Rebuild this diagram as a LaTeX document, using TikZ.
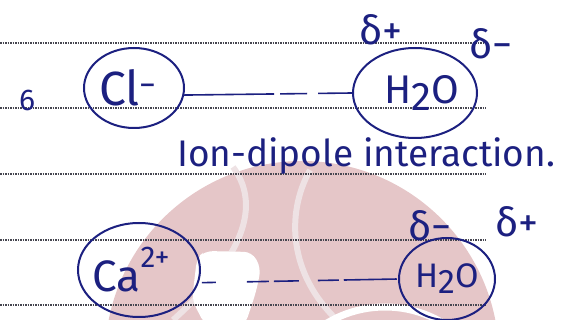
\documentclass[tikz,border=0pt]{standalone}
\usepackage{fontspec}
\setmainfont{Fira Sans}
\usetikzlibrary{positioning, shapes.geometric}
\definecolor{inkblue}{RGB}{28, 32, 128}
\definecolor{logopink}{RGB}{229, 198, 200}
\definecolor{logolight}{RGB}{238, 226, 228}
\definecolor{ruling}{RGB}{70, 70, 80}

\begin{document}
\begin{tikzpicture}[
            x=1pt, y=-1pt,
            ion/.style={draw=inkblue, ellipse, line width=2pt, text=inkblue, inner sep=-25pt},
            charge/.style={text=inkblue, inner sep=0pt, font=\fontsize{40}{42}\selectfont},
            bond/.style={draw=inkblue, line width=1.6pt},
            ruleline/.style={ruling, line width=1.1pt, dash pattern=on 1.5pt off 1pt}
        ]
            \useasboundingbox (0,0) rectangle (568,320);
            \begin{scope}
                \clip (0,0) rectangle (568,320);
                % faint logo behind the notes
                \fill[logopink] (302,358) circle (197);
                \draw[logolight, line width=6pt] (233,167) .. controls (265,210) and (235,265) .. (173,320);
                \draw[logolight, line width=6pt] (310,170) .. controls (285,215) and (290,275) .. (337,320);
                \draw[white, line width=7pt] (385,420) circle (113);
                \fill[white, rounded corners=8pt] (192,300) -- (197,258) -- (205,251) -- (252,252) -- (261,268) -- (256,292) -- (245,325) -- (205,325) -- cycle;
            \end{scope}

            \foreach \y in {43, 108, 174, 240, 305}
                \draw[ruleline] (0,\y) -- (486,\y);

            \node[text=inkblue, font=\fontsize{30}{32}\selectfont] (mark) at (27,100) {6};

            \node[ion, minimum width=100pt, minimum height=80pt, font=\fontsize{48}{50}\selectfont] (cl) at (134,88) {\raisebox{-4pt}{Cl\textsuperscript{−}}\hspace*{12pt}};
            \node[ion, minimum width=124pt, minimum height=90pt, font=\fontsize{40}{42}\selectfont] (w1) at (415,93) {\hspace*{14pt}H\raisebox{-7pt}{2}O};
            \node[charge] (dp1) at (381,30) {δ+};
            \node[charge] (dm1) at (491,44) {δ−};

            \node[text=inkblue, anchor=base west, inner sep=0pt, font=\fontsize{37}{40}\selectfont] (caption) at (177,167) {Ion-dipole interaction.};

            \node[ion, minimum width=122pt, minimum height=94pt, font=\fontsize{44}{46}\selectfont] (ca) at (139,270) {\raisebox{-10pt}{Ca\raisebox{24pt}{\fontsize{30}{30}\selectfont 2+}}\hspace*{16pt}};
            \node[ion, minimum width=96pt, minimum height=82pt, font=\fontsize{34}{36}\selectfont] (w2) at (447,279) {H\raisebox{-6pt}{2}O};
            \node[charge] (dm2) at (430,226) {δ−};
            \node[charge] (dp2) at (517,222) {δ+};

            \draw[bond, dash pattern=on 90pt off 6pt on 27pt off 11pt on 40pt] (cl.-8) -- (w1.west);
            \draw[bond, dash pattern=on 0pt off 3pt on 14pt off 31pt on 22pt off 5pt on 25pt off 19pt on 21pt off 5pt on 50pt] (ca.-12) -- (w2.west);
        \end{tikzpicture}
\end{document}
